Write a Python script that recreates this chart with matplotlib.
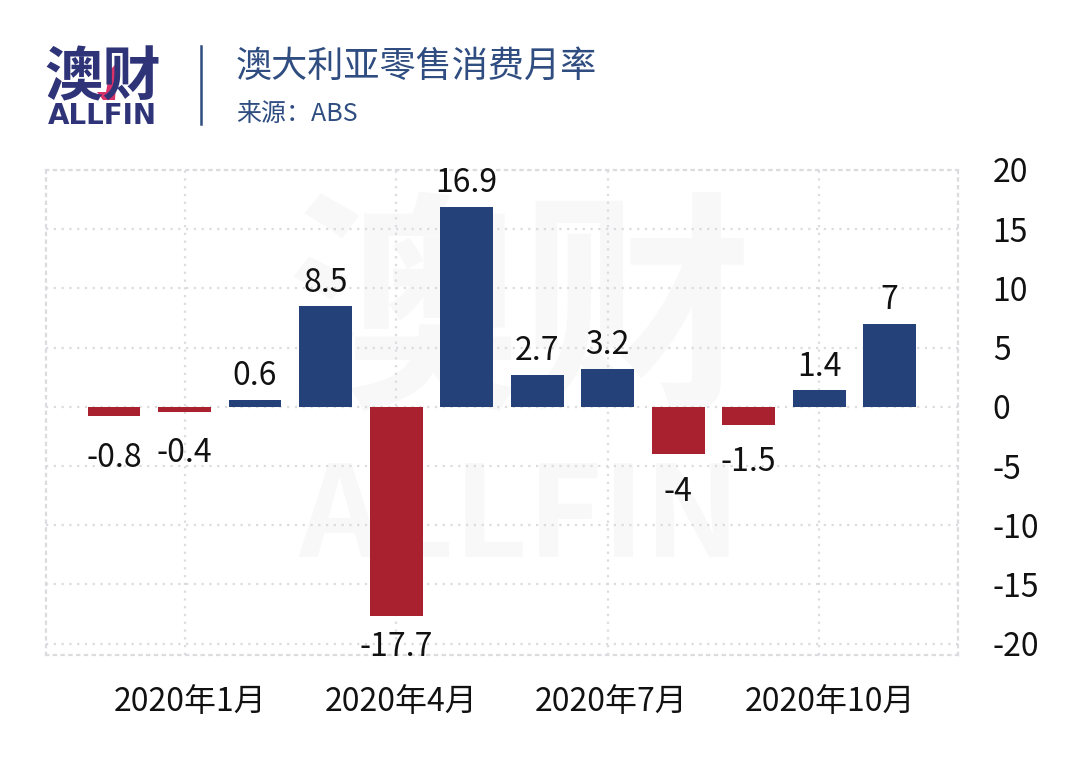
"""
Australia monthly retail spending chart
"""
import matplotlib
matplotlib.use('Agg')
import matplotlib.pyplot as plt
from matplotlib.patches import Polygon
from matplotlib.transforms import ScaledTranslation

plt.rcParams['font.family'] = ['Noto Sans CJK SC', 'DejaVu Sans']

# Data
values = [-0.8, -0.4, 0.6, 8.5, -17.7, 16.9, 2.7, 3.2, -4, -1.5, 1.4, 7]
month_ticks = [1, 4, 7, 10]
month_labels = ['2020年1月', '2020年4月', '2020年7月', '2020年10月']
y_ticks = [-20, -15, -10, -5, 0, 5, 10, 15, 20]

BLUE = '#25417a'
RED = '#a9212e'
TITLE_COLOR = '#2f4d80'
GRID = '#dcdce0'
MARK = '#f8f8f9'
WIDTH, HEIGHT = 1080, 766

fig = plt.figure(figsize=(WIDTH / 100, HEIGHT / 100), dpi=100, facecolor='white')


def px(x, y):
    """Pixel position to figure fraction"""
    return x / WIDTH, 1 - y / HEIGHT


# Watermark, kept behind the axes
x, y = px(520, 322)
fig.text(x, y, '澳财', fontsize=168, fontweight='bold', color=MARK,
         ha='center', va='center', zorder=-1)
x, y = px(520, 520)
fig.text(x, y, 'ALLFIN', fontsize=92, fontweight='bold', color=MARK,
         ha='center', va='center', zorder=-1)

# Plot area
ax = fig.add_axes([46 / WIDTH, 1 - 655 / HEIGHT, 912 / WIDTH, 485 / HEIGHT])
ax.patch.set_alpha(0)
colors = [BLUE if v > 0 else RED for v in values]
bars = ax.bar(range(len(values)), values, width=0.75, color=colors, zorder=3)
ax.set_xlim(-0.965, 11.97)
ax.set_ylim(-20.96, 20)

ax.yaxis.tick_right()
ax.set_yticks(y_ticks)
ax.set_yticklabels([str(t) for t in y_ticks], ha='left')
ax.set_xticks(month_ticks)
ax.set_xticklabels(month_labels)
ax.tick_params(axis='y', length=0, pad=25, labelsize=23, labelcolor='#111111')
ax.tick_params(axis='x', length=0, pad=22.5, labelsize=23, labelcolor='#111111')
ax.grid(True, color=GRID, linestyle=(0, (1, 2.5)), linewidth=1.6, zorder=1)
for side in ax.spines.values():
    side.set_color(GRID)
    side.set_linestyle((0, (1, 2.5)))
    side.set_linewidth(1.6)

# Month labels sit a little right of their gridlines
for label, shift in zip(ax.get_xticklabels(), [6, 5, 4, 11]):
    label.set_transform(label.get_transform()
                        + ScaledTranslation(shift / 100, 0, fig.dpi_scale_trans))

# Value labels
for i, v in enumerate(values):
    offset = 17 if v > 0 else -27
    if v == -17.7:
        offset = -22
    elif v in (-0.8, -0.4):
        offset = -30
    ax.annotate(str(v), (i, v), xytext=(0, offset), textcoords='offset points',
                ha='center', va='center', fontsize=23, color='#111111',
                annotation_clip=False, zorder=4)

# Header
x, y = px(103, 78)
fig.text(x, y, '澳财', fontsize=42, fontweight='bold', color='#2f3478',
         ha='center', va='center')
logo_mark = [(115, 65), (117, 70), (115, 100), (103, 100), (97, 92), (106, 92), (110, 70)]
fig.add_artist(Polygon([px(a, b) for a, b in logo_mark], closed=True,
                       facecolor='#d9326a', edgecolor='none',
                       transform=fig.transFigure))
x, y = px(102, 116)
fig.text(x, y, 'ALLFIN', fontsize=20, fontweight='bold', color='#2f3478',
         family='DejaVu Sans', ha='center', va='center')
x0, y0 = px(201, 46)
x1, y1 = px(201, 124)
fig.add_artist(plt.Line2D([x0, x1], [y0, y1], color=TITLE_COLOR, linewidth=1.8))
x, y = px(236, 67)
fig.text(x, y, '澳大利亚零售消费月率', fontsize=26, color=TITLE_COLOR,
         ha='left', va='center')
x, y = px(236, 114)
fig.text(x, y, '来源：ABS', fontsize=18, color=TITLE_COLOR, ha='left', va='center')

fig.savefig('out.png', dpi=100)
plt.close(fig)
